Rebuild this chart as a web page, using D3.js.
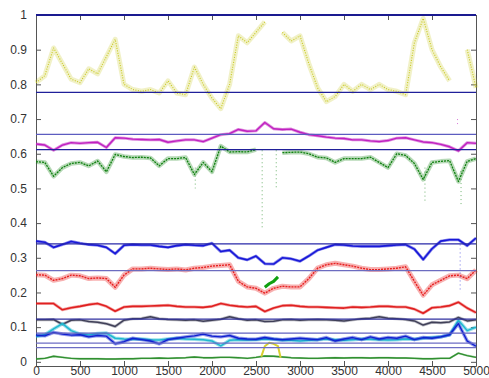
<!DOCTYPE html>
<html>
<head>
<meta charset="utf-8">
<script src="https://cdn.jsdelivr.net/npm/d3@7"></script>
<style>
  body { margin: 0; background: #fff; }
  .axis text { font-family: "Liberation Sans", Arial, sans-serif; font-size: 12px; fill: #333; }
  .axis path, .axis line { stroke: #555; }
</style>
</head>
<body>
<svg id="chart"></svg>
<script>
// sample positions (shared by every trace)
const xs = d3.range(0, 5001, 100);

// traces at x = 0, 100, ... 5000 (null = gap)
const yellow = [0.805,0.825,0.905,0.86,0.815,0.805,0.845,0.83,0.88,0.93,0.80,0.785,0.78,0.785,0.775,0.81,0.775,0.77,0.85,0.80,0.76,0.73,0.80,0.94,0.92,0.95,0.98,null,0.95,0.925,0.94,0.86,0.79,0.75,0.765,0.80,0.78,0.80,0.785,0.80,0.785,0.78,0.77,0.92,0.99,0.90,0.85,0.81,null,0.90,0.79];
const magenta = [0.628,0.625,0.610,0.625,0.632,0.630,0.632,0.633,0.618,0.646,0.645,0.642,0.641,0.640,0.641,0.633,0.637,0.640,0.640,0.635,0.645,0.655,0.658,0.670,0.665,0.666,0.690,0.672,0.670,0.671,0.662,0.655,0.652,0.648,0.645,0.644,0.640,0.640,0.637,0.635,0.638,0.645,0.646,0.640,0.634,0.632,0.627,0.620,0.608,0.632,0.630];
const green = [0.577,0.575,0.535,0.560,0.572,0.575,0.565,0.579,0.548,0.598,0.592,0.589,0.590,0.588,0.565,0.586,0.586,0.589,0.540,0.575,0.548,0.622,0.605,0.606,0.605,0.612,null,null,0.603,0.604,0.605,0.600,0.590,0.588,0.575,0.586,0.586,0.586,0.590,0.575,0.560,0.600,0.595,0.572,0.526,0.575,0.578,0.580,0.520,0.578,0.586];
const blue = [0.348,0.345,0.330,0.338,0.347,0.342,0.338,0.336,0.330,0.312,0.336,0.338,0.337,0.337,0.333,0.330,0.335,0.338,0.336,0.335,0.342,0.318,0.322,0.300,0.294,0.305,0.283,0.282,0.300,0.297,0.290,0.305,0.322,0.330,0.338,0.337,0.334,0.333,0.333,0.333,0.335,0.337,0.338,0.325,0.295,0.326,0.348,0.352,0.352,0.335,0.357];
const red = [0.251,0.250,0.235,0.240,0.250,0.248,0.240,0.242,0.240,0.215,0.250,0.268,0.268,0.270,0.268,0.266,0.268,0.265,0.270,0.272,0.276,0.278,0.280,0.232,0.216,0.212,0.198,0.212,0.218,0.216,0.216,0.240,0.270,0.280,0.284,0.280,0.276,0.270,0.266,0.266,0.268,0.270,0.274,0.232,0.192,0.222,0.235,0.248,0.250,0.240,0.265];
const red2 = [0.168,0.168,0.168,0.150,0.156,0.160,0.165,0.168,0.160,0.146,0.158,0.160,0.160,0.161,0.162,0.163,0.160,0.158,0.158,0.157,0.160,0.168,0.163,0.160,0.158,0.160,0.145,0.155,0.162,0.163,0.160,0.158,0.158,0.157,0.156,0.155,0.158,0.157,0.158,0.160,0.160,0.158,0.158,0.152,0.140,0.156,0.158,0.162,0.172,0.155,0.142];
const grey = [0.121,0.121,0.122,0.108,0.120,0.121,0.116,0.114,0.110,0.102,0.120,0.124,0.125,0.130,0.124,0.122,0.121,0.120,0.121,0.117,0.120,0.123,0.130,0.124,0.120,0.121,0.116,0.117,0.121,0.122,0.120,0.121,0.122,0.121,0.120,0.118,0.121,0.124,0.126,0.130,0.126,0.124,0.122,0.118,0.106,0.114,0.113,0.115,0.128,0.118,0.121];
const cyan = [0.073,0.078,0.095,0.110,0.090,0.080,0.078,0.082,0.083,0.068,0.066,0.065,0.066,0.064,0.063,0.066,0.068,0.066,0.065,0.064,0.060,0.046,0.062,0.064,0.063,0.064,0.066,0.065,0.062,0.062,0.060,0.062,0.064,0.066,0.064,0.062,0.064,0.066,0.065,0.064,0.063,0.064,0.066,0.065,0.068,0.070,0.072,0.078,0.120,0.090,0.100];
const blue2 = [0.077,0.075,0.085,0.080,0.077,0.078,0.072,0.076,0.074,0.052,0.058,0.068,0.064,0.060,0.052,0.064,0.068,0.072,0.075,0.080,0.074,0.072,0.076,0.068,0.066,0.065,0.070,0.066,0.064,0.066,0.068,0.066,0.064,0.070,0.060,0.066,0.070,0.064,0.072,0.066,0.070,0.068,0.074,0.064,0.070,0.068,0.072,0.078,0.110,0.060,0.045];
const green2 = [0.008,0.010,0.016,0.013,0.010,0.009,0.009,0.009,0.008,0.008,0.009,0.009,0.010,0.010,0.011,0.010,0.011,0.012,0.014,0.012,0.012,0.013,0.013,0.012,0.010,0.013,0.017,0.016,0.014,0.012,0.011,0.010,0.010,0.011,0.012,0.011,0.012,0.012,0.011,0.012,0.012,0.011,0.011,0.010,0.009,0.009,0.010,0.010,0.025,0.018,0.013];

// short pieces
const bumpX = [2560, 2600, 2650, 2700, 2750, 2780];
const bumpY = [0.015, 0.045, 0.055, 0.052, 0.045, 0.012];
const patchX = [2600, 2650, 2700, 2750];
const patchY = [0.215, 0.225, 0.232, 0.245];

// vertical dot streaks: x, from, to
const streaks = [
  {x: 1810, y0: 0.56, y1: 0.50, c: "#108010"},
  {x: 2570, y0: 0.61, y1: 0.38, c: "#108010"},
  {x: 2730, y0: 0.61, y1: 0.50, c: "#108010"},
  {x: 4420, y0: 0.56, y1: 0.46, c: "#108010"},
  {x: 4830, y0: 0.55, y1: 0.45, c: "#108010"},
  {x: 4820, y0: 0.35, y1: 0.20, c: "#1818d8"},
  {x: 4790, y0: 0.70, y1: 0.68, c: "#c020c0"}
];

// horizontal reference levels
const levels = [1.0, 0.777, 0.656, 0.612, 0.340, 0.263, 0.123, 0.083, 0.054, 0.041];
const levelColors = ["#1a1a90", "#20209a", "#5c5cc0", "#20209a", "#2828a8", "#6c6cc0", "#3030a0", "#6060c0", "#6c6cc4", "#6c6cc4"];

const yTicks = d3.range(0, 1.01, 0.1);
const xTicks = d3.range(0, 5001, 500);

// band = fuzzy halo width for the noisy traces
const traces = [
  {v: yellow, c: "#c8c81e", band: 5, bo: 0.25, core: 1.1, dash: "1 1.5"},
  {v: magenta, c: "#c020c0", band: 3, bo: 0.5, core: 1.4},
  {v: green, c: "#108010", band: 4.5, bo: 0.3, core: 1.3, dash: "2 1"},
  {v: blue, c: "#1818d8", band: 3, bo: 0.5, core: 1.6},
  {v: red, c: "#e82020", band: 5, bo: 0.35, core: 1.4, dash: "2 1"},
  {v: red2, c: "#e02020", band: 3, bo: 0.4, core: 1.6},
  {v: grey, c: "#404058", band: 3, bo: 0.35, core: 1.5},
  {v: cyan, c: "#20b8d0", band: 3.5, bo: 0.45, core: 1.5},
  {v: blue2, c: "#1020d0", band: 3.5, bo: 0.45, core: 1.4},
  {v: green2, c: "#309030", band: 2, bo: 0.4, core: 1.4}
];

const width = 489, height = 378;
const margin = {left: 36, right: 476, top: 15, bottom: 366};

const svg = d3.select("#chart")
    .attr("width", width)
    .attr("height", height);

const x = d3.scaleLinear().domain([0, 5000]).range([margin.left, margin.right]);
const y = d3.scaleLinear().domain([-0.012, 1]).range([margin.bottom, margin.top]);

// axes (matlab box, ticks pointing inwards)
svg.append("g")
    .attr("class", "axis")
    .attr("transform", "translate(0," + margin.bottom + ")")
    .call(d3.axisBottom(x).tickValues(xTicks).tickSizeInner(-5).tickSizeOuter(0).tickPadding(0.5)
        .tickFormat(d3.format("d")));
svg.append("g")
    .attr("class", "axis")
    .attr("transform", "translate(0," + margin.top + ")")
    .call(d3.axisTop(x).tickValues(xTicks).tickSizeInner(-5).tickSizeOuter(0).tickFormat(""));
svg.append("g")
    .attr("class", "axis")
    .attr("transform", "translate(" + margin.left + ",0)")
    .call(d3.axisLeft(y).tickValues(yTicks).tickSizeInner(-5).tickSizeOuter(0).tickPadding(9)
        .tickFormat(d => d3.format("~g")(+d.toFixed(1))));
svg.append("g")
    .attr("class", "axis")
    .attr("transform", "translate(" + margin.right + ",0)")
    .call(d3.axisRight(y).tickValues(yTicks).tickSizeInner(-5).tickSizeOuter(0).tickFormat(""));

const line = d3.line()
    .defined(d => d[1] != null)
    .x(d => x(d[0]))
    .y(d => y(d[1]));

const plot = svg.append("g")
    .attr("stroke-linejoin", "round")
    .attr("fill", "none");

// traces: a soft halo for the noise plus the core line
traces.forEach(function(t) {
  const pts = xs.map((xv, i) => [xv, t.v[i]]);
  plot.append("path")
      .attr("d", line(pts))
      .attr("stroke", t.c)
      .attr("stroke-width", t.band)
      .attr("stroke-opacity", t.bo);
  plot.append("path")
      .attr("d", line(pts))
      .attr("stroke", t.c)
      .attr("stroke-width", t.core)
      .attr("stroke-dasharray", t.dash || null);
});

plot.append("path")
    .attr("d", line(bumpX.map((xv, i) => [xv, bumpY[i]])))
    .attr("stroke", "#d8d030")
    .attr("stroke-width", 2);
plot.append("path")
    .attr("d", line(patchX.map((xv, i) => [xv, patchY[i]])))
    .attr("stroke", "#10a010")
    .attr("stroke-width", 3);

plot.selectAll(".streak")
    .data(streaks)
    .enter()
    .append("line")
    .attr("x1", d => x(d.x))
    .attr("x2", d => x(d.x))
    .attr("y1", d => y(d.y0))
    .attr("y2", d => y(d.y1))
    .attr("stroke", d => d.c)
    .attr("stroke-width", 1)
    .attr("stroke-opacity", 0.6)
    .attr("stroke-dasharray", "1 3");

// reference levels on top
svg.selectAll(".level")
    .data(levels)
    .enter()
    .append("line")
    .attr("x1", margin.left)
    .attr("x2", margin.right)
    .attr("y1", d => y(d))
    .attr("y2", d => y(d))
    .attr("stroke", (d, i) => levelColors[i])
    .attr("stroke-width", (d, i) => i == 0 ? 2 : 1.2);
</script>
</body>
</html>
